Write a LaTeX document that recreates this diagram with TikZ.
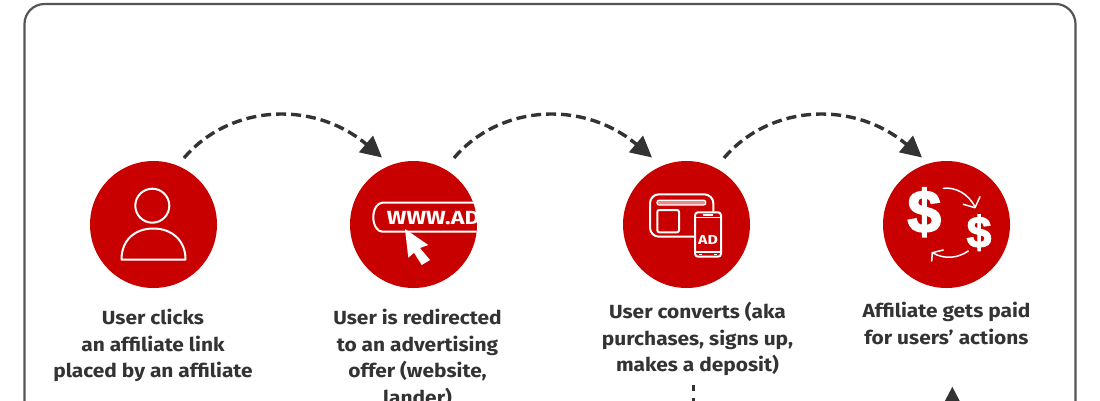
\documentclass[tikz,border=0pt]{standalone}
\usepackage{fontspec}
\setmainfont{Fira Sans}
\newfontfamily\labelfont{Fira Sans}[FakeStretch=1.1]
\newfontfamily\widefont{Fira Sans}[FakeStretch=1.22]
\newfontfamily\dollarfont{Liberation Sans}[BoldFeatures={FakeBold=3}]
\usetikzlibrary{arrows.meta,calc}
\definecolor{adred}{HTML}{C80000}
\definecolor{ink}{HTML}{333333}
\definecolor{framegray}{HTML}{555555}
\tikzset{
  redcircle/.style={circle,fill=adred,draw=none,minimum size=127pt,inner sep=0pt},
  label/.style={align=center,text=ink,font=\labelfont\fontsize{19}{26.5}\selectfont\bfseries,inner sep=0pt},
  hop/.style={draw=ink,line width=3.4pt,dash pattern=on 10pt off 5pt,
    -{Triangle[length=21pt,width=21pt,fill=ink]}},
  icon/.style={draw=white,line width=2pt,line join=round},
  thin icon/.style={draw=white,line width=1.5pt,line cap=round,line join=round},
}
\begin{document}
\begin{tikzpicture}[x=1pt,y=-1pt]
\useasboundingbox (0,0) rectangle (1100,400);
\clip (0,0) rectangle (1100,400);
\fill[white] (0,0) rectangle (1100,400);
% frame
\draw[framegray,line width=2.2pt,rounded corners=20pt] (24.5,4) rectangle (1075.5,470);
% circles
\node[redcircle] (c1) at (153.5,224.5) {};
\node[redcircle] (c2) at (413.5,224.5) {};
\node[redcircle] (c3) at (686.5,224.5) {};
\node[redcircle] (c4) at (946.5,224.5) {};
% hop end points
\coordinate (s1) at (184,158);
\coordinate (e1) at (382,157.5);
\coordinate (s2) at (454,158);
\coordinate (e2) at (652,157.5);
\coordinate (s3) at (724,158);
\coordinate (e3) at (922,157.5);
\foreach \s/\e in {s1/e1,s2/e2,s3/e3}{
  \draw[hop] (\s) .. controls ($(\s)+(46,-54)$) and ($(\s)+(130,-58)$) .. (\e);
}
% user icon
\draw[icon] (152.3,205.7) circle (17);
\draw[icon] (121.5,259.5) .. controls (121.5,240) and (135,228.5) .. (153.3,228.5)
   .. controls (171.5,228.5) and (185.5,240) .. (185.5,259.5) -- cycle;
% www icon
\begin{scope}
  \clip (340,150) rectangle (476.7,290);
  \draw[icon] (520,202.7) -- (382.3,202.7) arc[start angle=90,end angle=270,x radius=9,y radius=-14.5]
     -- (520,231.7);
  \node[anchor=west,inner sep=0pt,text=white,font=\widefont\fontsize{19}{19}\selectfont\bfseries] (www) at (386.7,218.5) {WWW.AD};
\end{scope}
\fill[white] (405,229) -- (428.3,245) -- (420,248) -- (430,260) -- (421.7,265) -- (414,252.7) -- (408.3,257.7) -- cycle;
% browser + phone icon
\draw[icon] (713.3,211.7) -- (713.3,203.3) arc[start angle=0,end angle=-90,radius=9] -- (659,194.3)
   arc[start angle=-90,end angle=-180,radius=9] -- (650,227.7) arc[start angle=180,end angle=90,radius=9] -- (695,236.7);
\draw[white,line width=1.2pt,fill=white,fill opacity=.55,rounded corners=2pt] (657,200.2) rectangle (705.7,205);
\draw[icon,rounded corners=2pt] (657.3,210) rectangle (679,232.3);
\draw[icon,rounded corners=3pt] (695,212.3) rectangle (721,256.7);
\draw[white,line width=1.5pt] (695,217.5) -- (721,217.5) (695,252) -- (721,252);
\draw[white,line width=1.5pt] (703,215) -- (713,215) (699,254.5) -- (702,254.5) (714,254.5) -- (717,254.5);
\node[inner sep=0pt,text=white,font=\widefont\fontsize{13}{13}\selectfont\bfseries] (adtext) at (708,240) {AD};
% money icon
\node[inner sep=0pt,text=white,font=\dollarfont\fontsize{60}{60}\selectfont\bfseries] (bigd) at (924.3,212.3) {\$};
\node[inner sep=0pt,text=white,font=\dollarfont\fontsize{44}{44}\selectfont\bfseries] (smalld) at (979,232.7) {\$};
\draw[thin icon] (943.3,188.3) .. controls (955,187) and (968,193) .. (975,207);
\draw[thin icon] (963.3,204.3) -- (975,207.7) -- (980,196.7);
\draw[thin icon] (968.3,251) .. controls (958,258) and (945,260) .. (932.3,252.7);
\draw[thin icon] (943.3,250) -- (932.3,252.7) -- (931.7,261);
% labels
\node[label,anchor=north] (t1) at (153,309) {User clicks\\an affiliate link\\placed by an affiliate};
\node[label,anchor=north] (t2) at (417.5,309) {User is redirected\\to an advertising\\offer (website,\\lander)};
\node[label,anchor=north] (t3) at (697.5,302) {User converts (aka\\purchases, signs up,\\makes a deposit)};
\node[label,anchor=north] (t4) at (946.5,302) {Affiliate gets paid\\for users’ actions};
% lower connectors
\coordinate (d1) at (693.3,440);
\draw[draw=ink,line width=3pt,dash pattern=on 6pt off 7pt] (693.3,385) -- (d1);
\coordinate (u1) at (952.3,460);
\draw[draw=ink,line width=3pt,-{Triangle[length=21pt,width=21pt,fill=ink]}] (u1) -- (952.3,386.7);
\end{tikzpicture}
\end{document}
